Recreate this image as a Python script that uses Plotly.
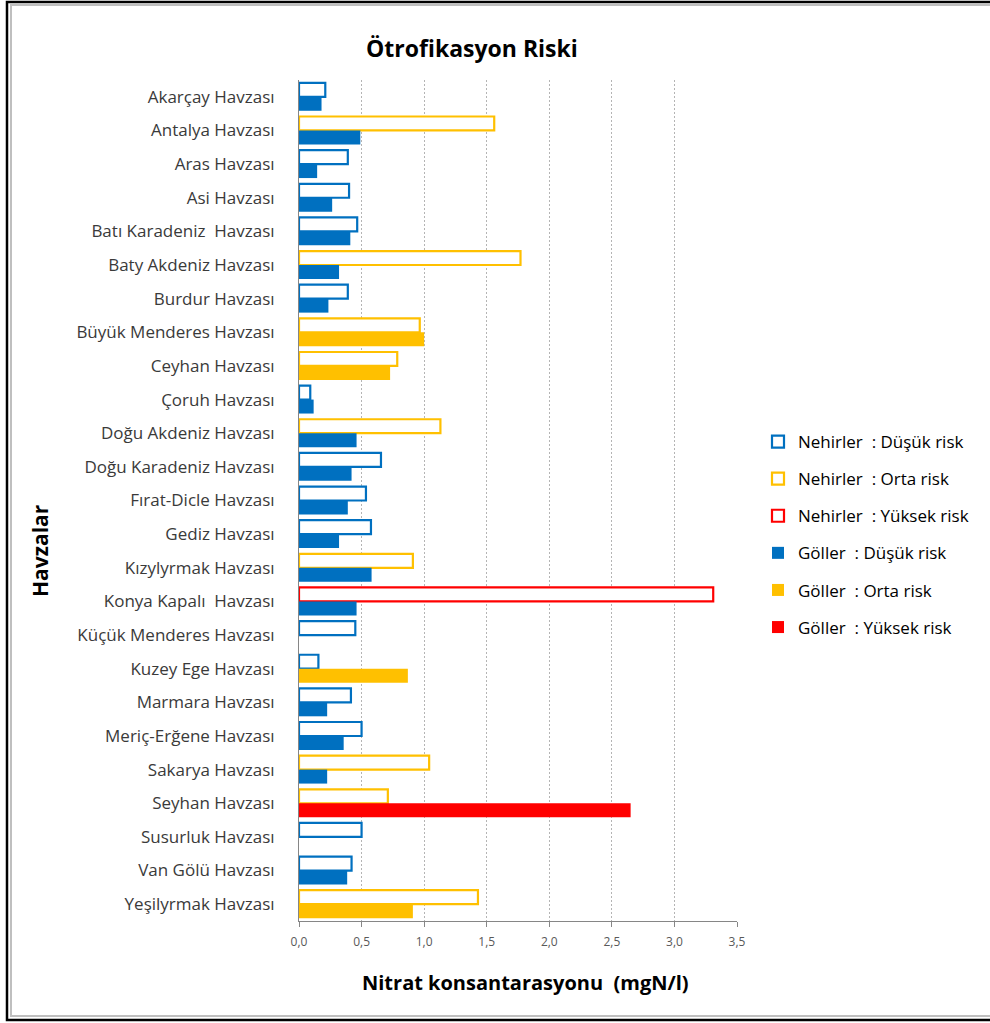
import plotly.graph_objects as go

categories = [
    "Akarçay Havzası", "Antalya Havzası", "Aras Havzası", "Asi Havzası",
    "Batı Karadeniz  Havzası", "Baty Akdeniz Havzası", "Burdur Havzası",
    "Büyük Menderes Havzası", "Ceyhan Havzası", "Çoruh Havzası",
    "Doğu Akdeniz Havzası", "Doğu Karadeniz Havzası", "Fırat-Dicle Havzası",
    "Gediz Havzası", "Kızylyrmak Havzası", "Konya Kapalı  Havzası",
    "Küçük Menderes Havzası", "Kuzey Ege Havzası", "Marmara Havzası",
    "Meriç-Erğene Havzası", "Sakarya Havzası", "Seyhan Havzası",
    "Susurluk Havzası", "Van Gölü Havzası", "Yeşilyrmak Havzası",
]

N = None
nehir_dusuk = [0.21, N, 0.39, 0.40, 0.465, N, 0.39, N, N, 0.09,
               N, 0.655, 0.535, 0.575, N, N, 0.45, 0.155, 0.415, 0.50,
               N, N, 0.50, 0.42, N]
nehir_orta = [N, 1.56, N, N, N, 1.77, N, 0.965, 0.785, N,
              1.13, N, N, N, 0.91, N, N, N, N, N,
              1.04, 0.71, N, N, 1.43]
nehir_yuksek = [N, N, N, N, N, N, N, N, N, N,
                N, N, N, N, N, 3.31, N, N, N, N,
                N, N, N, N, N]
gol_dusuk = [0.18, 0.49, 0.145, 0.265, 0.41, 0.32, 0.235, N, N, 0.117,
             0.46, 0.42, 0.39, 0.32, 0.58, 0.46, N, N, 0.225, 0.357,
             0.225, N, N, 0.385, N]
gol_orta = [N, N, N, N, N, N, N, 1.0, 0.728, N,
            N, N, N, N, N, N, N, 0.87, N, N,
            N, N, N, N, 0.91]
gol_yuksek = [N, N, N, N, N, N, N, N, N, N,
              N, N, N, N, N, N, N, N, N, N,
              N, 2.65, N, N, N]

x_ticks = [0, 0.5, 1.0, 1.5, 2.0, 2.5, 3.0, 3.5]

BLUE = "#0070C0"
GOLD = "#FFC000"
RED = "#FF0000"
FONT = "Open Sans"

series = [
    ("Nehirler  : Düşük risk", nehir_dusuk, BLUE, "n", False),
    ("Nehirler  : Orta risk", nehir_orta, GOLD, "n", False),
    ("Nehirler  : Yüksek risk", nehir_yuksek, RED, "n", False),
    ("Göller  : Düşük risk", gol_dusuk, BLUE, "g", True),
    ("Göller  : Orta risk", gol_orta, GOLD, "g", True),
    ("Göller  : Yüksek risk", gol_yuksek, RED, "g", True),
]

fig = go.Figure()
for i, (name, vals, col, grp, filled) in enumerate(series):
    fig.add_trace(go.Bar(
        y=categories, x=vals, name=name, orientation="h",
        offsetgroup=grp, legendgroup=str(i),
        marker=dict(color=col if filled else "white",
                    line=dict(color=col, width=0 if filled else 2.2)),
    ))

# plot area geometry (px) used for frame / annotation placement
L, R, T, B = 299, 737, 80, 921
W, H = R - L, B - T


def px(x):
    return (x - L) / W


def py(y):
    return (B - y) / H


shapes = [
    dict(type="rect", xref="paper", yref="paper", x0=px(7), x1=px(994),
         y0=py(1020), y1=py(2), line=dict(color="#000000", width=2.5),
         layer="below"),
    dict(type="rect", xref="paper", yref="paper", x0=px(11), x1=px(994),
         y0=py(1016), y1=py(5), line=dict(color="#BFBFBF", width=2),
         layer="below"),
]

annotations = [
    dict(text="<b>Ötrofikasyon Riski</b>", x=px(472), y=py(48),
         xref="paper", yref="paper", showarrow=False,
         xanchor="center", yanchor="middle",
         font=dict(family=FONT, size=23, color="#000000")),
    dict(text="<b>Nitrat konsantarasyonu  (mgN/l)</b>", x=px(525), y=py(982),
         xref="paper", yref="paper", showarrow=False,
         xanchor="center", yanchor="middle",
         font=dict(family=FONT, size=20, color="#000000")),
    dict(text="<b>Havzalar</b>", x=px(40), y=py(551), textangle=-90,
         xref="paper", yref="paper", showarrow=False,
         xanchor="center", yanchor="middle",
         font=dict(family=FONT, size=21, color="#000000")),
]

fig.update_layout(
    width=990, height=1023,
    margin=dict(l=L, r=990 - R, t=T, b=1023 - B, autoexpand=False),
    paper_bgcolor="white", plot_bgcolor="white",
    barmode="group", bargap=0.17, bargroupgap=0.0,
    separators=",.",
    font=dict(family=FONT, size=13, color="#404040"),
    showlegend=True,
    legend=dict(x=px(758), y=py(424), xanchor="left", yanchor="top",
                tracegroupgap=12, font=dict(family=FONT, size=17, color="#000000"),
                bgcolor="rgba(0,0,0,0)"),
    shapes=shapes,
    annotations=annotations,
)

fig.update_xaxes(
    range=[0, 3.5], tickvals=x_ticks, tickformat=".1f",
    showgrid=True, gridcolor="#B4B4B4", griddash="2px,2px", gridwidth=1,
    showline=True, linecolor="#868686", linewidth=1,
    ticks="outside", ticklen=5, tickcolor="#868686", ticklabelstandoff=5,
    tickfont=dict(family=FONT, size=12, color="#595959"),
    zeroline=False,
)
fig.update_yaxes(
    categoryorder="array", categoryarray=categories, autorange="reversed",
    showline=True, linecolor="#868686", linewidth=1,
    showgrid=False, ticks="", ticklabelstandoff=20,
    tickfont=dict(family=FONT, size=17, color="#3A3A3A"),
)

fig.write_html("out.html")
